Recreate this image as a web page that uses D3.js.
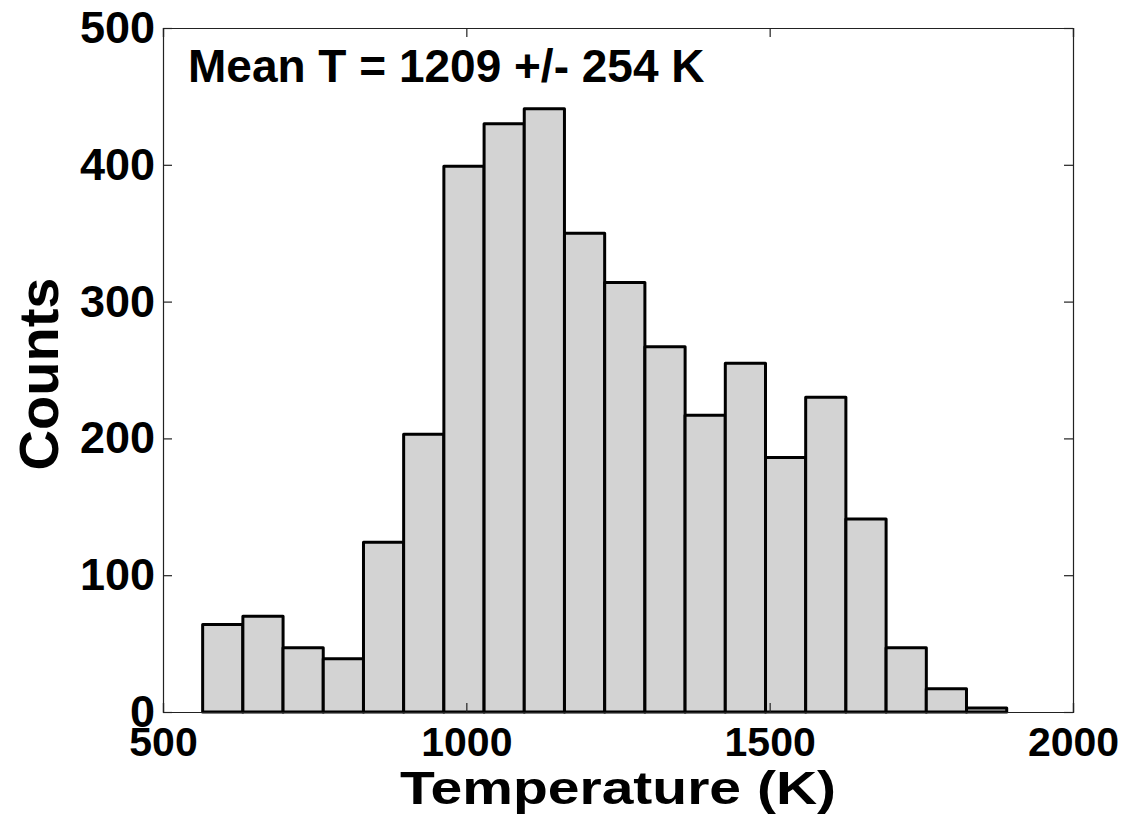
<!DOCTYPE html>
<html>
<head>
<meta charset="utf-8">
<script src="https://cdn.jsdelivr.net/npm/d3@7"></script>
<style>
  body { margin: 0; background: #fff; }
  text { font-family: "Liberation Sans", Arial, sans-serif; font-weight: bold; fill: #000; }
</style>
</head>
<body>
<div id="chart"></div>
<script>
// histogram (20 bins)
var binCenters = [598.5, 664.8, 731.0, 797.3, 863.6, 929.8, 996.1, 1062.4, 1128.6, 1194.9,
                  1261.2, 1327.5, 1393.7, 1460.0, 1526.3, 1592.5, 1658.8, 1725.1, 1791.3, 1857.6];
var binWidth = 66.26;
var counts = [64, 70, 47, 39, 124, 203, 399, 430, 441, 350,
              314, 267, 217, 255, 186, 230, 141, 47, 17, 3];
var xTicks = [500, 1000, 1500, 2000];
var yTicks = [0, 100, 200, 300, 400, 500];
var note = "Mean T = 1209 +/- 254 K";

var W = 1128, H = 818;
var margin = {top: 28, right: 55, bottom: 106, left: 163},
    width = W - margin.left - margin.right,
    height = H - margin.top - margin.bottom;

var svg = d3.select('#chart')
  .append('svg')
  .attr('width', W)
  .attr('height', H);

var g = svg.append('g')
  .attr('transform', 'translate(' + margin.left + ',' + margin.top + ')');

var x = d3.scaleLinear().domain([500, 2000]).range([0, width]);
var y = d3.scaleLinear().domain([0, 500]).range([height, 0]);

// bars
g.selectAll('.bar')
  .data(counts)
  .enter().append('rect')
    .attr('class', 'bar')
    .attr('x', function(d, i) { return x(binCenters[i] - binWidth / 2); })
    .attr('width', function(d, i) { return x(binCenters[i] + binWidth / 2) - x(binCenters[i] - binWidth / 2); })
    .attr('y', function(d) { return y(d); })
    .attr('height', function(d) { return y(0) - y(d); })
    .attr('fill', '#d3d3d3')
    .attr('stroke', '#000')
    .attr('stroke-width', 3)
    .attr('stroke-linejoin', 'round');

// frame with inward ticks on all sides
var tickLen = 9;
var axB = g.append('g').attr('transform', 'translate(0,' + height + ')')
  .call(d3.axisBottom(x).tickValues(xTicks).tickSize(-tickLen).tickPadding(16).tickFormat(d3.format('d')));
var axT = g.append('g')
  .call(d3.axisTop(x).tickValues(xTicks).tickSize(-tickLen).tickFormat(''));
var axL = g.append('g')
  .call(d3.axisLeft(y).tickValues(yTicks).tickSize(-tickLen).tickPadding(8));
var axR = g.append('g').attr('transform', 'translate(' + width + ',0)')
  .call(d3.axisRight(y).tickValues(yTicks).tickSize(-tickLen).tickFormat(''));

[axB, axT, axL, axR].forEach(function(a) {
  a.selectAll('path').attr('stroke', '#222').attr('stroke-width', 1.2);
  a.selectAll('line').attr('stroke', '#222').attr('stroke-width', 1.2);
});
axB.selectAll('text').style('font-size', '41px').attr('dy', '0.68em');
axL.selectAll('text').style('font-size', '45px');

// annotation
g.append('text')
  .attr('x', 25)
  .attr('y', 54)
  .style('font-size', '46px')
  .text(note);

// axis labels
svg.append('text')
  .attr('text-anchor', 'middle')
  .attr('transform', 'translate(' + (margin.left + width / 2) + ',804) scale(1.24,1)')
  .style('font-size', '46px')
  .text('Temperature (K)');

svg.append('text')
  .attr('text-anchor', 'middle')
  .attr('transform', 'translate(58,' + (margin.top + y(250) + 4) + ') rotate(-90)')
  .style('font-size', '56px')
  .text('Counts');
</script>
</body>
</html>
